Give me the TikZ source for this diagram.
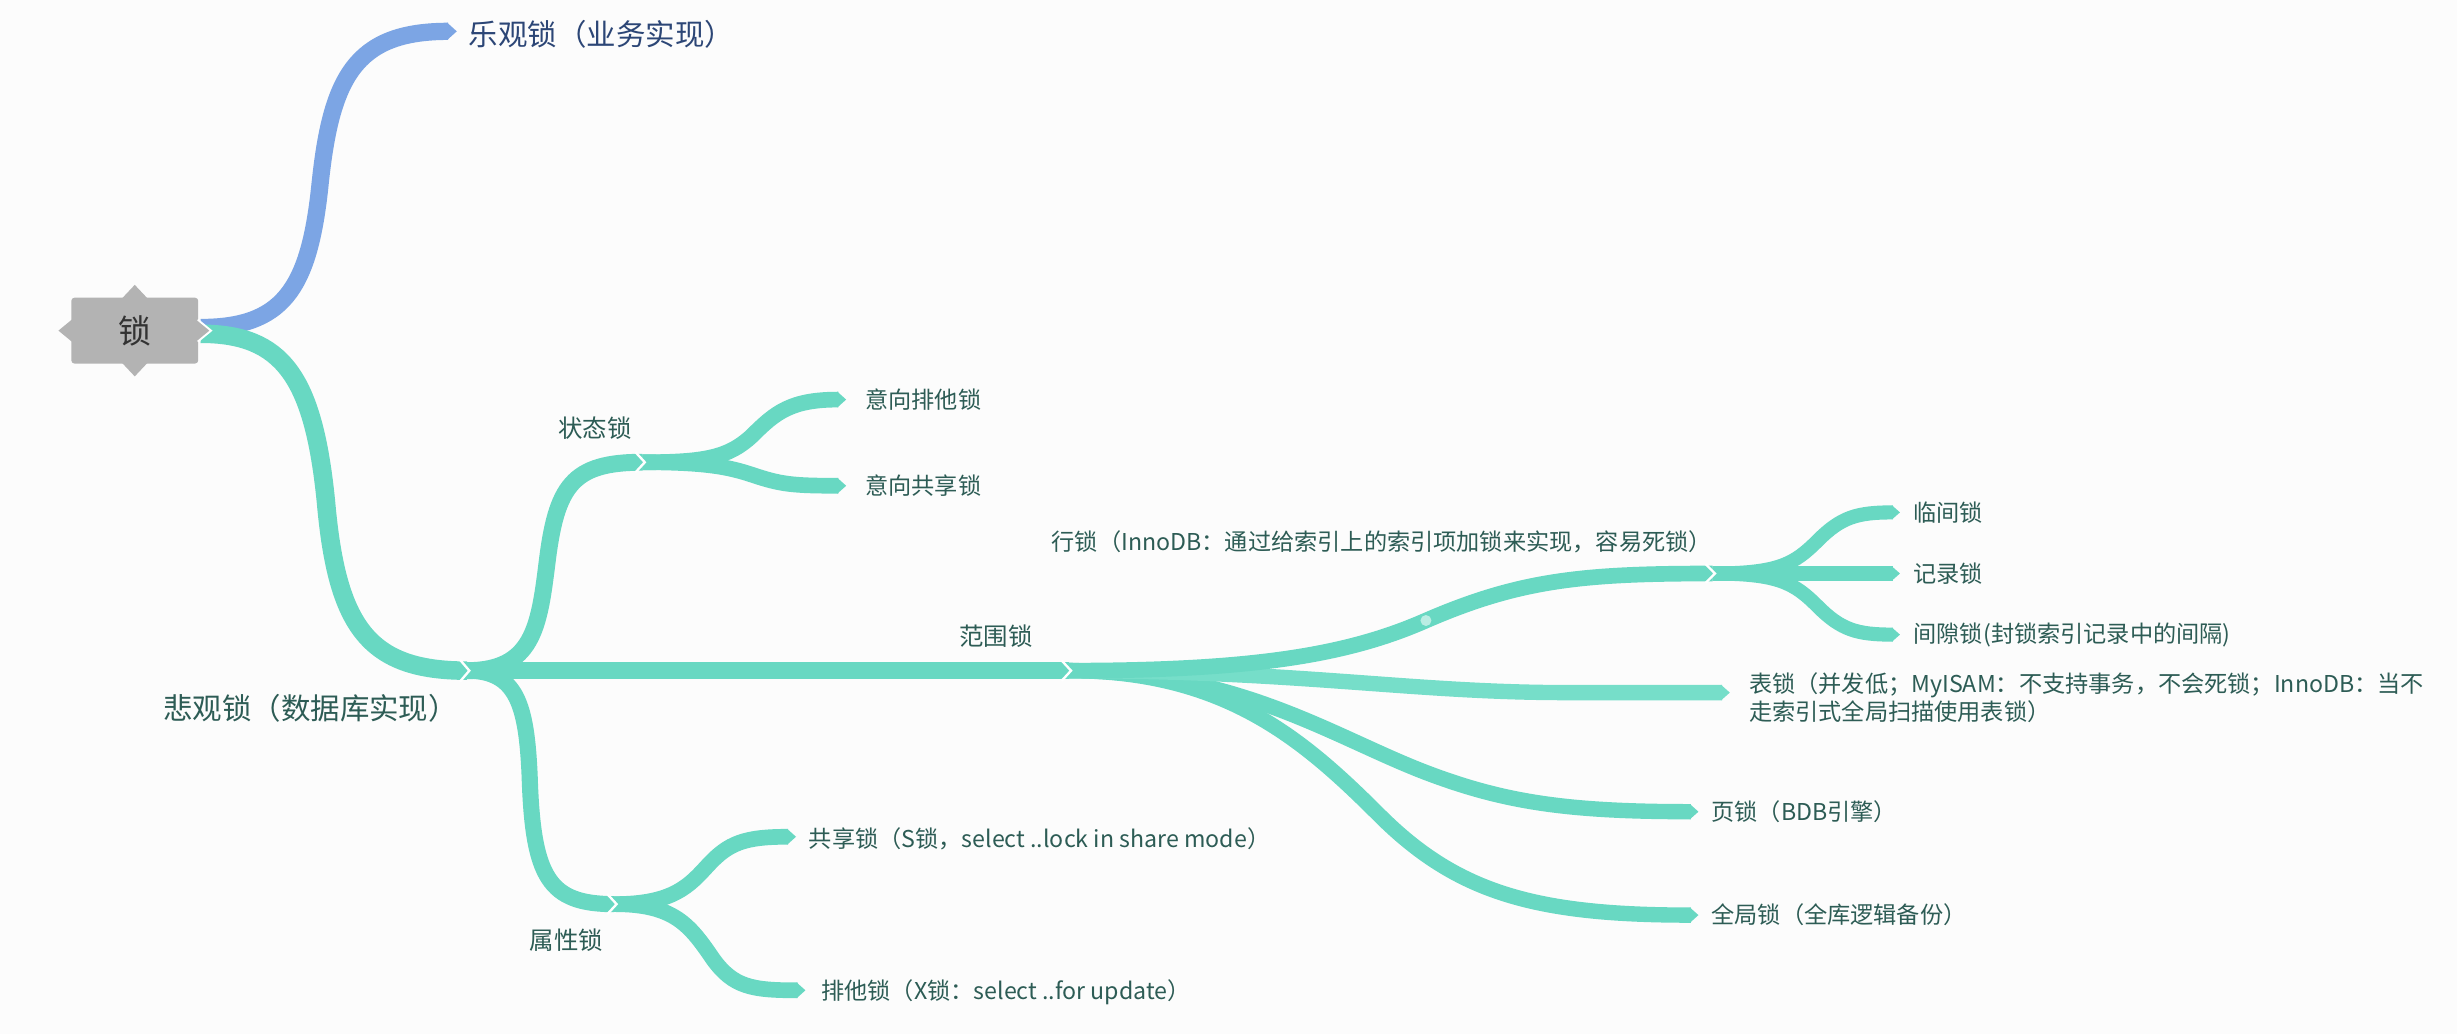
\documentclass[tikz,border=0pt]{standalone}
\usepackage{fontspec}
\setmainfont{Noto Sans CJK SC}
\usetikzlibrary{calc}
\definecolor{bgc}{HTML}{FCFCFC}
\definecolor{brgreen}{HTML}{68D8C2}
\definecolor{brgreenl}{HTML}{76DEC9}
\definecolor{brblue}{HTML}{7CA5E4}
\definecolor{txgreen}{HTML}{2D5C55}
\definecolor{txblue}{HTML}{2C4676}
\definecolor{rootgray}{HTML}{B3B3B3}
\definecolor{roottext}{HTML}{333333}
\newcommand\brtip[3]{\fill[#3] ($(#1)+(-0.6,-#2)$) -- ($(#1)+(#2,0)$) -- ($(#1)+(-0.6,#2)$) -- cycle;}
\newcommand\brnotch[2]{\draw[white, line width=1.5pt] ($(#1)+(-4.5,-#2)$) -- ($(#1)+(1.5,0)$) -- ($(#1)+(-4.5,#2)$);}
\tikzset{
  brline/.style={draw=brgreen, line width=#1},
  lbl/.style={anchor=west, inner sep=0pt, text=txgreen, font=\fontsize{14.8}{18}\selectfont},
}
\begin{document}
\begin{tikzpicture}[x=1pt,y=-1pt]
\fill[bgc] (0,0) rectangle (1568,660);
\useasboundingbox (0,0) rectangle (1568,660);

% junctions and ends
\coordinate (r0) at (128,211);
\coordinate (eblue) at (286,20);
\coordinate (j1) at (298,428);
\coordinate (j2) at (410,295);
\coordinate (j3) at (682,428);
\coordinate (j4) at (1093,366);
\coordinate (j5) at (392,577);
\coordinate (e11) at (535,255);
\coordinate (e12) at (535,310);
\coordinate (e41) at (1208,327);
\coordinate (e42) at (1208,366);
\coordinate (e43) at (1208,405);
\coordinate (e32) at (1099,442);
\coordinate (e33) at (1079,518);
\coordinate (e34) at (1079,584);
\coordinate (e51) at (503,534);
\coordinate (e52) at (509,632);

% branches
\draw[brblue, line width=11] ($(r0)+(0,-2)$) .. controls (180,209) and (197,185) .. (204,120)
   .. controls (211,50) and (226,20) .. (eblue);
\draw[brline=11.8] ($(r0)+(0,2)$) .. controls (180,213) and (200,240) .. (208,320)
   .. controls (215,400) and (235,428) .. (j1);
\draw[brline=10.8] (j1) .. controls (340,428) and (344,400) .. (349,360)
   .. controls (355,310) and (365,295) .. (j2);
\draw[brline=10] (j2) .. controls (450,295) and (465,292) .. (480,278)
   .. controls (495,263) and (505,255) .. (e11);
\draw[brline=10] (j2) .. controls (450,295) and (465,298) .. (480,303)
   .. controls (498,309) and (505,310) .. (e12);
\draw[brline=10.8] (j1) -- (j3);
\draw[brline=10.3] (j1) .. controls (330,428) and (336,450) .. (338,495)
   .. controls (340,560) and (350,577) .. (j5);
\draw[brline=10] (j5) .. controls (430,577) and (440,565) .. (452,552)
   .. controls (465,538) and (475,534) .. (e51);
\draw[brline=10] (j5) .. controls (430,577) and (440,590) .. (455,612)
   .. controls (468,630) and (480,632) .. (e52);
\draw[brline=9.8] (j3) .. controls (780,428) and (830,470) .. (880,520)
   .. controls (930,570) and (980,584) .. (e34);
\draw[brline=9.8] (j3) .. controls (790,428) and (850,470) .. (910,493)
   .. controls (960,512) and (1000,518) .. (e33);
\draw[draw=brgreenl, line width=9.8] (j3) .. controls (830,428) and (900,442) .. (1000,442) -- (e32);
\draw[brline=10] (j3) .. controls (800,428) and (860,418) .. (910,396)
   .. controls (970,370) and (1010,366) .. (j4);
\draw[brline=9] (j4) .. controls (1135,366) and (1145,360) .. (1160,345)
   .. controls (1175,330) and (1185,327) .. (e41);
\draw[brline=9] (j4) -- (e42);
\draw[brline=9] (j4) .. controls (1135,366) and (1145,372) .. (1160,387)
   .. controls (1175,402) and (1185,405) .. (e43);
\fill[white, opacity=0.55] (910,396) circle (3.5);

% tips
\brtip{eblue}{5.5}{brblue}
\brtip{e11}{5}{brgreen}
\brtip{e12}{5}{brgreen}
\brtip{e51}{5}{brgreen}
\brtip{e52}{5}{brgreen}
\brtip{e32}{4.9}{brgreenl}
\brtip{e33}{4.9}{brgreen}
\brtip{e34}{4.9}{brgreen}
\brtip{e41}{4.5}{brgreen}
\brtip{e42}{4.5}{brgreen}
\brtip{e43}{4.5}{brgreen}

% notches
\brnotch{j1}{7}
\brnotch{j2}{6.5}
\brnotch{j3}{6.5}
\brnotch{j4}{6}
\brnotch{j5}{6.5}

% root
\node[fill=rootgray, rounded corners=2pt, minimum width=81, minimum height=42, inner sep=0pt,
      text=roottext, font=\fontsize{21}{24}\selectfont] (root) at (86,211) {锁};
\fill[rootgray] ($(root.north)+(-8,0.5)$) -- ($(root.north)+(0,-8)$) -- ($(root.north)+(8,0.5)$) -- cycle;
\fill[rootgray] ($(root.south)+(-8,-0.5)$) -- ($(root.south)+(0,8)$) -- ($(root.south)+(8,-0.5)$) -- cycle;
\fill[rootgray] ($(root.west)+(0.5,-7)$) -- ($(root.west)+(-8,0)$) -- ($(root.west)+(0.5,7)$) -- cycle;
\filldraw[fill=rootgray, draw=white, line width=1.2pt] ($(root.east)+(-0.5,-7)$) -- ($(root.east)+(8,0)$) -- ($(root.east)+(-0.5,7)$);

% labels
\node[lbl, text=txblue, font=\fontsize{18.8}{22}\selectfont] (opt) at (299,22) {乐观锁（业务实现）};
\node[lbl, font=\fontsize{18.8}{22}\selectfont] (pes) at (104,452) {悲观锁（数据库实现）};
\node[lbl, font=\fontsize{15.6}{18}\selectfont] (zt) at (356,273) {状态锁};
\node[lbl] (yxpt) at (552,255) {意向排他锁};
\node[lbl] (yxgx) at (552,310) {意向共享锁};
\node[lbl, font=\fontsize{15.6}{18}\selectfont] (fw) at (612,406) {范围锁};
\node[lbl] (hs) at (671,346) {行锁（InnoDB：通过给索引上的索引项加锁来实现，容易死锁）};
\node[lbl] (ljs) at (1221,327) {临间锁};
\node[lbl] (jls) at (1221,366) {记录锁};
\node[lbl] (jxs) at (1221,405) {间隙锁(封锁索引记录中的间隔)};
\node[lbl, align=left] (bs) at (1116,445) {表锁（并发低；MyISAM：不支持事务，不会死锁；InnoDB：当不\\走索引式全局扫描使用表锁）};
\node[lbl] (ys) at (1092,518) {页锁（BDB引擎）};
\node[lbl] (qjs) at (1092,584) {全局锁（全库逻辑备份）};
\node[lbl, font=\fontsize{15.6}{18}\selectfont] (sxs) at (338,600) {属性锁};
\node[lbl] (gxs) at (516,535) {共享锁（S锁，select ..lock in share mode）};
\node[lbl] (pts) at (524,633) {排他锁（X锁：select ..for update）};
\end{tikzpicture}
\end{document}
